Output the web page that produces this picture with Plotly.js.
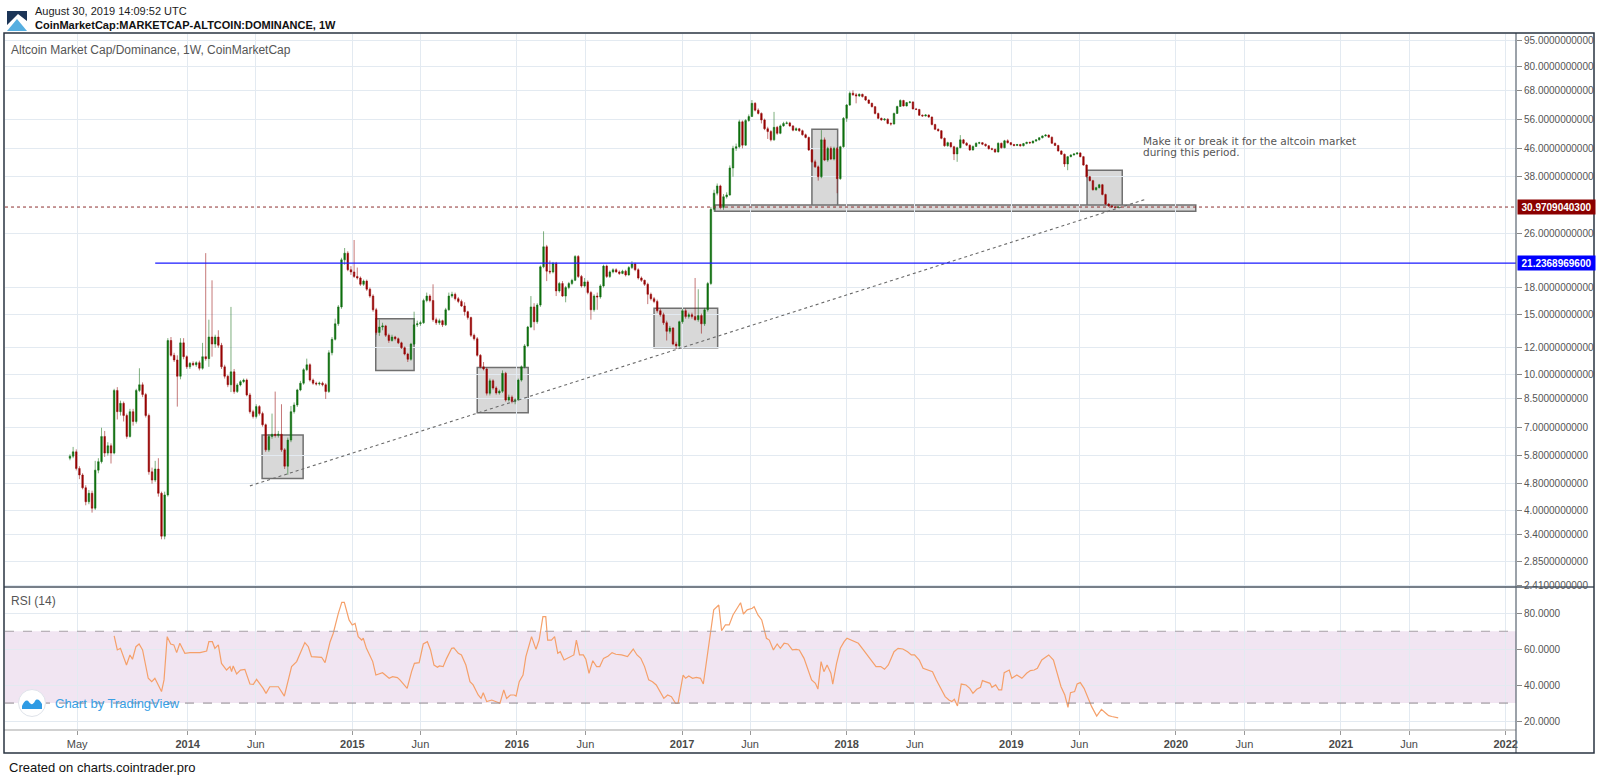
<!DOCTYPE html>
<html>
<head>
<meta charset="utf-8">
<script src="https://cdn.plot.ly/plotly-3.0.1.min.js"></script>
<style>
html,body{margin:0;padding:0;background:#fff;}
#wrap{position:relative;width:1600px;height:780px;}
#chart{position:absolute;left:0;top:0;width:1600px;height:780px;}
#overlay{position:absolute;left:0;top:0;pointer-events:none;}
</style>
</head>
<body>
<div id="wrap">
<div id="chart"></div>
<svg id="overlay" width="1600" height="780">
  <polygon points="7,11 27,11 27,21 18,14 7,25" fill="#1c3557"/>
  <polygon points="7,31 17,19 27,31" fill="#55aee0"/>
  <circle cx="32" cy="703" r="13.5" fill="#ffffff" stroke="#dfe3ea" stroke-width="1"/>
  <path d="M22,709 L22,706 C24,701 27,699 29,702 C31,705 33,705 35,701 C37,698 40,700 42,704 L42,709 Z" fill="#2f9be4"/>
</svg>
</div>
<script>
// ---------------- data ----------------
const weekStart = '2013-04-15';   // first weekly bar (Monday)

const openVals = [
5.70,5.78,5.95,5.32,5.09,4.67,4.25,4.50,4.07,5.26,
5.57,6.60,5.90,6.20,5.90,9.00,7.80,8.25,7.60,6.60,
7.80,7.30,9.00,9.35,8.75,7.60,5.20,4.92,5.30,4.50,
3.37,4.45,12.60,11.40,11.05,9.90,12.40,11.30,10.55,10.80,
10.70,10.85,10.45,11.30,11.15,12.90,12.30,12.90,12.20,10.55,
9.90,9.35,10.20,8.93,9.34,9.55,9.65,8.73,7.80,7.55,
8.07,7.70,7.14,6.03,6.60,6.70,6.65,6.70,6.03,5.40,
6.44,7.80,8.16,9.03,9.45,10.35,10.70,9.65,9.45,9.40,
9.45,9.35,8.93,11.60,12.70,14.10,15.80,21.70,22.70,20.30,
20.00,19.40,19.20,18.40,18.80,17.80,17.00,15.50,13.30,13.80,
13.90,13.05,12.60,12.90,12.75,12.40,12.00,11.50,11.10,12.30,
14.00,14.10,14.20,16.50,17.00,16.50,14.50,14.20,14.40,14.00,
15.50,17.00,17.20,16.70,16.40,15.90,15.30,14.70,13.05,12.75,
11.40,10.55,10.40,8.83,9.60,9.15,8.85,8.95,10.10,8.44,
8.60,8.35,8.45,9.65,10.55,12.15,13.80,15.80,14.30,16.00,
20.70,23.70,20.10,20.00,21.20,17.60,18.50,17.00,18.00,18.50,
18.90,22.20,19.40,18.20,18.70,17.40,15.50,17.00,16.90,18.20,
20.80,19.40,20.00,20.30,20.00,19.80,20.10,19.60,20.60,21.10,
20.30,19.20,18.90,18.40,17.20,16.70,16.40,15.40,15.00,14.20,
13.40,13.70,12.30,12.15,14.30,15.40,14.80,15.00,14.80,14.50,
14.90,14.10,15.50,18.50,30.50,34.00,35.70,30.90,33.20,33.60,
40.30,46.00,46.50,55.00,47.00,55.50,57.00,62.30,59.50,58.20,
55.70,52.50,51.50,48.70,53.00,50.90,53.50,54.40,54.60,53.50,
52.00,52.50,51.80,50.40,49.50,45.50,42.00,40.60,38.00,48.70,
42.50,46.00,42.80,46.00,37.50,46.50,56.30,61.60,66.70,66.00,
65.50,66.20,65.20,63.70,62.30,60.90,58.20,56.30,55.70,56.00,
54.40,54.20,58.20,61.00,63.50,61.20,62.60,62.90,60.00,59.80,
57.50,57.20,57.60,56.80,54.00,52.30,51.80,49.20,46.80,47.80,
46.50,44.30,46.20,48.70,47.60,47.00,45.50,46.60,47.60,47.80,
47.30,46.80,45.90,45.70,44.90,47.60,46.20,48.40,47.80,47.20,
46.90,47.20,46.80,47.50,47.90,47.70,48.30,48.70,49.40,50.00,
50.30,49.60,47.60,46.90,45.20,44.20,41.40,43.50,44.00,44.30,
44.60,43.50,41.10,38.00,37.00,34.80,35.30,36.00,33.70,31.60,
31.20,31.00,30.90];

const highVals = [
5.85,6.15,6.05,5.40,5.15,4.75,4.60,4.58,5.60,5.70,
7.00,6.85,6.35,6.30,9.10,9.20,8.40,8.35,7.70,7.95,
7.95,9.10,10.45,9.50,8.85,7.70,5.35,5.60,5.70,4.55,
4.55,12.80,12.90,11.60,11.40,12.80,12.80,11.40,10.90,10.95,
10.95,11.00,12.40,22.70,14.50,18.90,13.10,13.50,12.40,10.70,
10.00,15.80,10.40,9.45,9.65,9.75,9.75,8.85,7.90,8.20,
8.15,7.80,7.20,6.70,7.70,8.93,6.85,8.20,6.10,6.55,
8.10,8.30,9.10,9.60,10.45,11.15,10.80,9.75,9.55,9.55,
9.55,9.45,11.80,12.90,14.60,16.00,22.00,23.50,23.00,20.80,
24.80,20.60,19.40,19.00,19.00,18.00,17.20,15.70,14.50,14.20,
14.00,13.20,13.10,13.00,12.85,12.50,12.10,11.60,12.40,15.30,
14.40,14.40,16.70,17.40,17.20,18.40,14.70,14.60,14.50,15.70,
17.40,17.50,17.40,16.90,16.60,16.30,15.40,14.80,13.20,12.90,
11.50,10.90,10.50,9.75,9.70,9.25,9.05,10.30,10.20,8.75,
8.70,8.55,9.75,10.65,12.30,13.90,17.00,16.20,16.20,20.90,
26.30,24.00,21.60,21.40,21.40,18.70,18.80,18.20,18.70,19.10,
22.40,22.40,19.60,19.20,18.90,17.60,17.20,17.40,18.40,21.00,
21.00,20.20,20.50,20.50,20.20,20.30,20.30,20.80,21.50,21.30,
20.50,19.40,19.00,18.60,17.40,16.90,16.60,15.60,15.20,14.40,
13.90,13.80,12.50,14.40,15.60,15.60,15.20,15.20,19.20,17.80,
15.10,15.70,18.70,31.00,34.80,36.30,36.00,33.80,34.20,41.00,
46.80,47.50,55.80,55.50,56.00,57.80,63.70,62.80,60.20,58.60,
56.20,53.20,52.00,58.80,53.50,54.00,55.00,55.20,55.00,53.80,
53.00,52.80,52.20,50.80,49.80,45.80,42.60,41.00,52.00,49.50,
46.50,46.60,46.50,46.40,46.80,56.80,62.00,67.50,68.00,66.80,
66.60,66.50,65.50,64.00,62.60,61.20,58.50,56.60,56.40,56.30,
54.80,58.50,61.30,64.00,63.80,62.90,63.30,63.10,60.40,60.00,
57.80,57.90,57.80,57.00,54.30,52.60,52.00,49.50,48.10,48.00,
46.80,46.50,50.30,49.00,48.00,47.20,46.90,47.90,48.10,48.00,
47.50,47.00,46.20,45.90,47.90,47.80,48.70,48.90,48.00,47.40,
47.40,47.40,47.70,48.10,48.10,48.50,48.90,49.60,50.20,50.60,
50.50,49.80,47.80,47.10,45.40,44.40,43.70,44.20,44.50,44.80,
44.80,43.70,41.30,38.20,37.20,35.50,36.20,36.20,33.90,31.80,
31.40,31.20,31.10];

const lowVals = [
5.62,5.70,5.25,4.95,4.62,4.15,4.18,3.95,4.02,5.15,
5.50,5.75,5.80,5.50,5.85,7.40,7.60,7.30,6.50,6.55,
7.10,7.20,8.90,8.60,7.50,5.10,4.80,4.85,4.40,3.30,
3.30,4.40,11.30,10.90,8.07,9.70,11.10,10.40,10.40,10.60,
10.55,10.30,10.35,11.00,10.55,11.30,12.00,12.00,10.40,9.75,
9.20,8.90,8.80,8.85,9.25,9.45,8.65,7.70,7.45,7.45,
7.60,7.05,5.95,5.95,6.50,6.55,6.55,5.95,5.30,5.10,
6.35,7.70,8.05,8.95,9.35,10.25,9.55,9.35,9.30,9.30,
9.25,8.50,8.85,11.40,12.60,13.90,15.60,21.00,20.10,19.60,
19.20,19.00,18.20,18.20,17.60,16.80,15.30,13.10,13.00,13.50,
12.90,12.40,12.50,12.60,12.30,11.90,11.40,10.90,11.00,12.20,
13.80,13.90,14.10,16.30,16.30,14.30,14.00,14.00,13.80,13.90,
15.40,16.80,16.50,16.20,15.80,14.90,14.50,12.90,12.60,11.30,
10.45,10.30,8.70,8.70,9.05,8.75,8.75,8.85,8.35,8.35,
8.25,8.20,8.40,9.55,10.45,12.05,13.70,13.50,14.10,15.80,
20.50,18.80,19.70,19.80,17.00,17.40,16.90,16.30,17.80,18.30,
18.80,19.20,18.00,18.00,17.20,14.50,15.30,15.50,16.70,18.00,
19.20,19.20,19.80,19.90,19.60,19.70,19.40,19.50,20.40,20.10,
19.00,18.70,18.20,16.10,16.50,16.20,15.20,14.80,14.00,12.60,
13.20,12.20,11.90,12.00,14.10,14.60,14.60,14.60,14.40,14.30,
13.20,13.90,15.30,18.30,30.00,33.50,30.50,30.40,32.80,33.40,
38.00,45.20,46.00,46.00,46.80,55.00,56.80,59.00,57.80,54.40,
52.00,49.00,48.20,48.40,50.40,50.60,53.20,54.10,53.20,51.60,
51.70,51.40,50.10,49.20,45.20,41.70,40.30,37.00,37.60,42.20,
42.00,42.50,42.40,34.00,37.20,46.20,55.00,61.20,65.50,62.30,
65.00,64.80,63.30,62.00,60.60,57.80,56.00,55.40,55.40,54.10,
53.60,54.00,58.00,60.80,61.00,61.00,62.30,59.80,59.50,57.20,
56.90,57.00,56.50,53.70,52.00,51.50,48.90,46.50,46.50,46.20,
42.50,42.00,46.00,47.30,46.70,45.20,45.30,46.40,47.30,47.00,
46.50,45.60,45.40,44.60,44.70,45.90,46.00,47.50,46.90,46.60,
46.70,46.50,46.60,47.30,47.50,47.50,48.10,48.50,49.20,49.80,
49.40,47.40,46.70,45.00,44.00,40.60,39.70,43.30,43.80,44.10,
43.30,40.90,37.80,36.80,34.60,34.60,35.10,33.50,31.40,31.00,
30.80,30.70,30.80];

const closeVals = [
5.78,5.95,5.32,5.09,4.67,4.25,4.50,4.07,5.26,5.57,
6.60,5.90,6.20,5.90,9.00,7.80,8.25,7.60,6.60,7.80,
7.30,9.00,9.35,8.75,7.60,5.20,4.92,5.30,4.50,3.37,
4.45,12.60,11.40,11.05,9.90,12.40,11.30,10.55,10.80,10.70,
10.85,10.45,11.30,11.15,12.90,12.30,12.90,12.20,10.55,9.90,
9.35,10.20,8.93,9.34,9.55,9.65,8.73,7.80,7.55,8.07,
7.70,7.14,6.03,6.60,6.70,6.65,6.70,6.03,5.40,6.44,
7.80,8.16,9.03,9.45,10.35,10.70,9.65,9.45,9.40,9.45,
9.35,8.93,11.60,12.70,14.10,15.80,21.70,22.70,20.30,20.00,
19.40,19.20,18.40,18.80,17.80,17.00,15.50,13.30,13.80,13.90,
13.05,12.60,12.90,12.75,12.40,12.00,11.50,11.10,12.30,14.00,
14.10,14.20,16.50,17.00,16.50,14.50,14.20,14.40,14.00,15.50,
17.00,17.20,16.70,16.40,15.90,15.30,14.70,13.05,12.75,11.40,
10.55,10.40,8.83,9.60,9.15,8.85,8.95,10.10,8.44,8.60,
8.35,8.45,9.65,10.55,12.15,13.80,15.80,14.30,16.00,20.70,
23.70,20.10,20.00,21.20,17.60,18.50,17.00,18.00,18.50,18.90,
22.20,19.40,18.20,18.70,17.40,15.50,17.00,16.90,18.20,20.80,
19.40,20.00,20.30,20.00,19.80,20.10,19.60,20.60,21.10,20.30,
19.20,18.90,18.40,17.20,16.70,16.40,15.40,15.00,14.20,13.40,
13.70,12.30,12.15,14.30,15.40,14.80,15.00,14.80,14.50,14.90,
14.10,15.50,18.50,30.50,34.00,35.70,30.90,33.20,33.60,40.30,
46.00,46.50,55.00,47.00,55.50,57.00,62.30,59.50,58.20,55.70,
52.50,51.50,48.70,53.00,50.90,53.50,54.40,54.60,53.50,52.00,
52.50,51.80,50.40,49.50,45.50,42.00,40.60,38.00,48.70,42.50,
46.00,42.80,46.00,37.50,46.50,56.30,61.60,66.70,66.00,65.50,
66.20,65.20,63.70,62.30,60.90,58.20,56.30,55.70,56.00,54.40,
54.20,58.20,61.00,63.50,61.20,62.60,62.90,60.00,59.80,57.50,
57.20,57.60,56.80,54.00,52.30,51.80,49.20,46.80,47.80,46.50,
44.30,46.20,48.70,47.60,47.00,45.50,46.60,47.60,47.80,47.30,
46.80,45.90,45.70,44.90,47.60,46.20,48.40,47.80,47.20,46.90,
47.20,46.80,47.50,47.90,47.70,48.30,48.70,49.40,50.00,50.30,
49.60,47.60,46.90,45.20,44.20,41.40,43.50,44.00,44.30,44.60,
43.50,41.10,38.00,37.00,34.80,35.30,36.00,33.70,31.60,31.20,
31.00,30.90,30.9709040300];

// RSI(14): position in weeks from weekStart, value
const rsiWeek = [
14.0,15.0,16.0,17.9,19.0,19.8,20.9,21.9,23.0,24.8,
25.9,26.9,29.0,29.8,30.8,31.9,32.9,33.8,34.8,36.4,
38.0,41.2,43.3,44.0,45.1,45.9,47.0,48.0,49.6,50.7,
51.2,51.7,52.8,54.0,55.4,57.0,58.1,59.1,61.2,62.1,
63.3,66.0,67.9,68.9,70.2,71.8,73.4,74.4,75.5,76.5,
79.7,80.8,82.4,83.4,85.0,86.1,86.9,87.6,88.4,89.4,
90.3,91.3,92.4,92.9,93.9,95.9,96.9,99.0,101.1,102.2,
103.7,104.5,106.8,108.2,109.1,110.6,111.9,113.2,114.2,115.3,
116.4,117.0,118.2,119.3,120.9,121.6,123.0,124.0,125.4,126.7,
127.7,129.3,130.2,130.9,132.0,133.6,135.2,136.2,137.4,138.3,
139.5,140.7,141.3,142.3,143.5,144.4,146.2,147.6,148.6,149.8,
150.7,151.3,152.5,153.5,154.5,155.3,156.5,158.3,159.6,160.4,
161.4,162.6,163.4,164.4,165.6,166.8,167.8,169.0,170.5,171.7,
172.9,174.7,176.6,178.4,179.6,180.8,182.0,183.3,184.5,185.7,
186.9,188.1,189.3,190.5,191.8,192.6,194.2,195.0,196.0,197.2,
198.4,199.7,200.6,202.1,203.1,203.9,205.5,206.4,207.6,208.8,
210.0,211.2,212.4,213.3,214.5,216.1,216.7,217.9,219.1,220.6,
221.5,222.8,224.0,225.0,226.2,227.4,228.8,230.0,231.0,232.5,
233.7,234.9,236.1,236.9,237.9,238.8,239.8,241.0,241.6,242.8,
244.0,245.2,246.1,247.3,248.3,249.7,251.3,252.5,254.1,255.3,
256.8,258.0,259.2,261.0,262.3,263.8,265.3,266.5,267.5,269.0,
270.2,272.0,273.2,274.4,275.6,277.2,278.4,279.3,280.1,281.1,
282.3,283.8,285.0,286.0,287.2,288.4,289.0,290.2,291.4,292.0,
293.2,294.2,295.1,295.9,297.5,298.3,299.9,301.5,303.0,304.2,
305.4,306.4,307.8,309.0,310.0,311.5,312.7,313.9,315.1,316.1,
316.9,318.2,319.0,320.0,321.2,322.4,323.6,325.2,326.7,328.0,
329.0,330.0,331.0,332.0];
const rsiValue = [
67.4,59.6,60.5,51.2,56.8,54.4,61.4,62.9,59.6,43.8,
41.9,43.8,36.4,42.9,67.0,62.9,62.4,58.1,63.3,57.7,
58.1,58.1,59.0,64.2,64.2,60.5,62.4,52.1,48.4,50.3,
47.5,50.7,46.2,48.4,48.8,40.6,40.4,43.2,38.2,35.4,
39.1,39.1,33.9,41.0,50.3,53.1,59.9,63.7,61.4,55.9,
55.5,52.5,64.2,68.9,80.0,86.1,86.1,81.9,76.3,73.5,
74.4,67.0,65.1,66.1,60.5,53.1,45.6,46.9,43.8,44.7,
44.2,42.9,38.2,47.5,52.1,52.5,62.9,64.2,59.6,51.2,
49.9,50.7,50.3,54.9,60.5,60.7,57.7,56.8,51.2,41.9,
40.1,34.5,32.6,35.8,30.8,31.7,30.8,29.9,37.3,32.6,
34.5,34.5,33.9,41.9,45.6,55.9,67.0,59.9,65.1,78.1,
78.1,65.1,65.1,67.0,57.7,58.6,54.0,55.9,56.8,65.1,
56.8,56.8,54.4,46.6,53.6,50.3,50.3,54.9,56.2,58.1,
57.2,56.8,55.9,60.1,56.8,54.9,50.3,42.9,41.9,40.1,
36.4,32.6,34.5,33.6,29.9,29.9,45.6,43.8,45.1,43.8,
44.3,43.8,40.6,60.5,72.6,81.9,84.6,70.3,73.5,73.5,
79.1,82.2,85.9,79.6,81.9,82.8,83.7,79.1,76.3,66.1,
65.1,59.6,62.9,60.5,63.3,62.9,59.6,59.9,59.6,54.9,
48.4,42.9,41.0,37.8,53.1,47.5,51.2,46.6,40.6,52.1,
60.5,64.2,66.1,65.1,64.2,63.3,59.6,56.8,53.6,50.3,
50.3,48.8,51.2,58.6,60.5,60.1,58.6,56.8,56.8,54.0,
49.4,48.4,47.5,42.9,39.1,33.6,31.7,30.8,32.1,28.4,
40.6,40.1,38.2,35.4,37.7,38.8,42.5,41.9,41.0,38.8,
40.1,37.3,37.3,46.9,48.4,43.8,45.6,43.8,46.6,48.1,
48.4,49.4,54.0,55.5,56.8,54.0,46.6,39.1,34.5,27.6,
35.8,36.4,40.6,41.4,38.2,32.6,28.0,22.8,26.5,24.5,
23.0,22.5,22.0,21.8];

const priceTicks = [95,80,68,56,46,38,26,18,15,12,10,8.5,7,5.8,4.8,4,3.4,2.85,2.41];
const rsiTicks = [80,60,40,20];
const timeTickDates = ['2013-05-01','2014-01-01','2014-06-01','2015-01-01','2015-06-01','2016-01-01','2016-06-01',
  '2017-01-01','2017-06-01','2018-01-01','2018-06-01','2019-01-01','2019-06-01','2020-01-01','2020-06-01',
  '2021-01-01','2021-06-01','2022-01-01'];
const timeTickLabels = ['May','2014','Jun','2015','Jun','2016','Jun','2017','Jun','2018','Jun','2019','Jun','2020','Jun','2021','Jun','2022'];

const lastPrice = 30.9709040300;
const supportLevel = 21.2368969600;
const supportStart = '2013-10-21';

// highlight boxes drawn on the chart (dates and price levels)
const boxStart = ['2014-06-15','2015-02-22','2015-10-05','2016-10-31','2017-10-16','2019-06-18','2017-03-15'];
const boxEnd   = ['2014-09-14','2015-05-18','2016-01-26','2017-03-21','2017-12-12','2019-09-04','2020-02-14'];
const boxLow   = [4.97, 10.3, 7.74, 12.0, 31.2, 30.2, 30.1];
const boxHigh  = [6.66, 14.6, 10.5, 15.65, 52.3, 39.7, 31.4];

// dotted trend line
const trendDates = ['2014-05-19','2019-10-28'];
const trendValues = [4.73, 32.7];

// ---------------- build ----------------
const DAY = 86400000;
const t0 = Date.parse(weekStart + 'T00:00:00Z');
function weekToDate(w){ return new Date(t0 + w*7*DAY).toISOString().replace('T',' ').slice(0,19); }
const nBars = Math.min(openVals.length, highVals.length, lowVals.length, closeVals.length);
const barDates = [];
for (let k = 0; k < nBars; k++) barDates.push(weekToDate(k));
const nRsi = Math.min(rsiWeek.length, rsiValue.length);
const rsiDates = rsiWeek.slice(0,nRsi).map(weekToDate);

const W = 1600, H = 780;
const L = 5, R = 1516, T = 34, B = 730;
const px = x => (x - L) / (R - L);
const py = y => (B - y) / (B - T);
const splitY = 587;
const rsiTop = py(splitY);

const lg = v => Math.log10(v);
const FONT = 'Liberation Sans, Arial, sans-serif';
const GRID = '#e3eaf1';

const candles = {
  type: 'candlestick', x: barDates,
  open: openVals.slice(0,nBars), high: highVals.slice(0,nBars), low: lowVals.slice(0,nBars), close: closeVals.slice(0,nBars),
  xaxis: 'x', yaxis: 'y',
  increasing: {line: {color: 'rgba(20,110,20,0.55)', width: 1}, fillcolor: '#0b700b'},
  decreasing: {line: {color: 'rgba(150,10,10,0.55)', width: 1}, fillcolor: '#980000'},
  whiskerwidth: 0, hoverinfo: 'skip', showlegend: false
};
const trend = {
  type: 'scatter', mode: 'lines', x: trendDates, y: trendValues, xaxis: 'x', yaxis: 'y',
  line: {color: '#6a6a6a', width: 1.1, dash: 'dot'}, hoverinfo: 'skip', showlegend: false
};
const rsi = {
  type: 'scatter', mode: 'lines', x: rsiDates, y: rsiValue.slice(0,nRsi), xaxis: 'x', yaxis: 'y2',
  line: {color: '#f5a06a', width: 1.2}, hoverinfo: 'skip', showlegend: false
};

const shapes = [];
// RSI band
shapes.push({type:'rect', xref:'paper', yref:'y2', x0:0, x1:1, y0:30, y1:70, fillcolor:'#f1e5f2', line:{width:0}, layer:'below'});
shapes.push({type:'line', xref:'paper', yref:'y2', x0:0, x1:1, y0:70, y1:70, line:{color:'#a5a0a5', width:1, dash:'dash'}});
shapes.push({type:'line', xref:'paper', yref:'y2', x0:0, x1:1, y0:30, y1:30, line:{color:'#8f878f', width:1, dash:'dash'}});
// boxes (price axis is log: shape coordinates given as data values)
for (let k = 0; k < boxStart.length; k++) {
  shapes.push({type:'rect', xref:'x', yref:'y', x0:boxStart[k], x1:boxEnd[k], y0:boxLow[k], y1:boxHigh[k],
    fillcolor:'#d8d8d8', line:{color:'#707070', width:1.5}, layer:'below'});
}
// horizontal levels
shapes.push({type:'line', xref:'paper', yref:'y', x0:0, x1:1, y0:lastPrice, y1:lastPrice, line:{color:'#8e2f2f', width:1, dash:'dot'}});
shapes.push({type:'line', xref:'x', yref:'y', x0:supportStart, x1:'2022-01-24', y0:supportLevel, y1:supportLevel, line:{color:'#1a1aff', width:1.2}});
// frame lines
shapes.push({type:'line', xref:'paper', yref:'paper', x0:px(4), x1:px(1594), y0:rsiTop, y1:rsiTop, line:{color:'#4a5562', width:1.3}});
shapes.push({type:'line', xref:'paper', yref:'paper', x0:px(4), x1:1, y0:0, y1:0, line:{color:'#c2c2c2', width:1.5}});
shapes.push({type:'line', xref:'paper', yref:'paper', x0:1, x1:1, y0:py(753), y1:py(33), line:{color:'#5a6470', width:1.2}});
shapes.push({type:'rect', xref:'paper', yref:'paper', x0:px(4), x1:px(1594), y0:py(753), y1:py(33), line:{color:'#2a3442', width:1.5}, fillcolor:'rgba(0,0,0,0)'});

function note(x, y, text, font, extra){
  return Object.assign({xref:'paper', yref:'paper', x:px(x), y:py(y), text:text, showarrow:false,
    xanchor:'left', yanchor:'middle', font:font}, extra || {});
}
const annotations = [
  note(33, 11, 'August 30, 2019 14:09:52 UTC', {family:FONT, size:11, color:'#1b1b1b'}),
  note(33, 25, '<b>CoinMarketCap:MARKETCAP-ALTCOIN:DOMINANCE, 1W</b>', {family:FONT, size:11, color:'#111'}),
  note(9, 50, 'Altcoin Market Cap/Dominance, 1W, CoinMarketCap', {family:FONT, size:12, color:'#555'}),
  note(9, 601, 'RSI (14)', {family:FONT, size:12, color:'#555'}),
  note(53, 703, 'Chart by TradingView', {family:FONT, size:13, color:'#3aa0e4'}),
  note(7, 767, 'Created on charts.cointrader.pro', {family:FONT, size:13, color:'#111'}),
  note(1141, 141, 'Make it or break it for the altcoin market', {family:'DejaVu Sans, sans-serif', size:10.5, color:'#555'}),
  note(1141, 152, 'during this period.', {family:'DejaVu Sans, sans-serif', size:10.5, color:'#555'}),
  {xref:'paper', yref:'y', x:1, y:lg(lastPrice), text:'<b>' + lastPrice.toFixed(10) + '</b>', showarrow:false,
   xanchor:'left', yanchor:'middle', bgcolor:'#8b0000', font:{family:FONT, size:10, color:'#fff'}, width:77, height:14, borderpad:0, xshift:1},
  {xref:'paper', yref:'y', x:1, y:lg(supportLevel), text:'<b>' + supportLevel.toFixed(10) + '</b>', showarrow:false,
   xanchor:'left', yanchor:'middle', bgcolor:'#0000ff', font:{family:FONT, size:10, color:'#fff'}, width:77, height:14, borderpad:0, xshift:1}
];

const layout = {
  width: W, height: H,
  margin: {l: L, r: W - R, t: T, b: H - B, pad: 0},
  paper_bgcolor: '#fff', plot_bgcolor: '#fff',
  showlegend: false, hovermode: false, dragmode: false,
  font: {family: FONT, size: 11, color: '#4a4a4a'},
  xaxis: {
    type: 'date', range: ['2012-11-22', '2022-01-24'], anchor: 'y2',
    tickvals: timeTickDates,
    ticktext: timeTickLabels.map(s => /^\d{4}$/.test(s) ? '<b>' + s + '</b>' : s),
    showgrid: true, gridcolor: GRID, gridwidth: 1, zeroline: false, showline: false,
    ticks: 'outside', ticklen: 4, tickcolor: '#999', tickfont: {family: FONT, size: 11, color: '#4a4a4a'},
    rangeslider: {visible: false}, fixedrange: true, automargin: false
  },
  yaxis: {
    type: 'log', domain: [rsiTop, 1], range: [lg(2.393), lg(99.4)], side: 'right', anchor: 'x',
    tickvals: priceTicks, ticktext: priceTicks.map(v => v.toFixed(10)),
    showgrid: true, gridcolor: GRID, gridwidth: 1, zeroline: false, showline: false,
    ticks: 'outside', ticklen: 5, tickcolor: '#888', tickfont: {family: FONT, size: 10, color: '#555'},
    fixedrange: true, automargin: false
  },
  yaxis2: {
    domain: [0, rsiTop], range: [15, 94.65], side: 'right', anchor: 'x',
    tickvals: rsiTicks, ticktext: rsiTicks.map(v => v.toFixed(4)),
    showgrid: true, gridcolor: GRID, gridwidth: 1, zeroline: false, showline: false,
    ticks: 'outside', ticklen: 5, tickcolor: '#888', tickfont: {family: FONT, size: 10, color: '#555'},
    fixedrange: true, automargin: false
  },
  shapes: shapes,
  annotations: annotations
};

Plotly.newPlot('chart', [candles, trend, rsi], layout, {staticPlot: true, displayModeBar: false});
</script>
</body>
</html>
